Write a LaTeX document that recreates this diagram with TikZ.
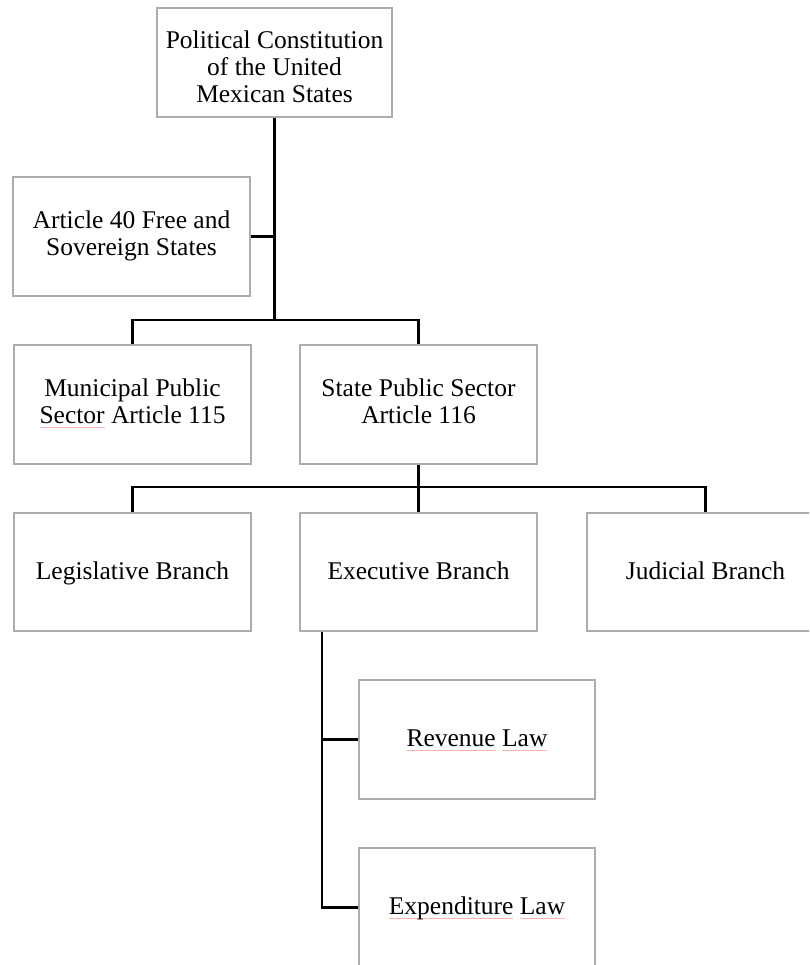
\documentclass[tikz,border=0pt]{standalone}
\usepackage{fontspec}
\setmainfont{Liberation Serif}
% faint spell-check style underline
\newsavebox\spellbox
\newcommand\spellmark[1]{\sbox\spellbox{#1}%
  \rlap{\textcolor{red!30}{\rule[-4.5pt]{\wd\spellbox}{0.9pt}}}\usebox\spellbox}
\tikzset{
  box/.style={draw=gray!65, line width=1.4pt, fill=white, rectangle,
    minimum width=237pt, minimum height=119pt, inner sep=0pt,
    align=center, font=\fontsize{25.5}{27}\selectfont,
    execute at begin node={\rule{0pt}{20.5pt}},
    execute at end node={\rule[-6pt]{0pt}{0pt}}},
  link/.style={draw=black, line width=2.3pt}
}
\begin{document}
\begin{tikzpicture}[x=1pt, y=-1pt]
  \useasboundingbox (0,0) rectangle (809,965);
  \clip (0,0) rectangle (809,965);

  % boxes
  \node[box, minimum width=235pt, minimum height=109pt] (top) at (274.5,62.5)
    {\rule{0pt}{32pt}Political Constitution\\of the United\\Mexican States};
  \node[box] (art) at (131.5,236.5) {Article 40 Free and\\Sovereign States};
  \node[box] (muni) at (132.5,404.5) {Municipal Public\\\spellmark{Sector} Article 115};
  \node[box] (state) at (418.5,404.5) {State Public Sector\\Article 116};
  \node[box, minimum height=118pt] (leg) at (132.5,572) {Legislative Branch};
  \node[box, minimum height=118pt] (exec) at (418.5,572) {Executive Branch};
  \node[box, minimum height=118pt] (jud) at (705.5,572) {Judicial Branch};
  \node[box, minimum width=236pt] (rev) at (477,739.5)
    {\spellmark{Revenue} \spellmark{Law}};
  \node[box, minimum width=236pt] (exp) at (477,907.5)
    {\spellmark{Expenditure} \spellmark{Law}};

  % branching points
  \coordinate (bar1) at (274.5,320);
  \coordinate (bar2) at (418.5,487);
  \coordinate (e0) at ([xshift=23pt]exec.south west);

  % connectors
  \draw[link] (top.south) -- (bar1);
  \draw[link] (art.east) -- (art.east -| top.south);
  \draw[link] (muni.north) |- (bar1) -| (state.north);
  \draw[link] (state.south) -- (bar2);
  \draw[link] (leg.north) |- (bar2) -| (jud.north);
  \draw[link] (bar2) -- (exec.north);
  \draw[link] (e0) |- (rev.west);
  \draw[link] (e0) |- (exp.west);
\end{tikzpicture}
\end{document}
